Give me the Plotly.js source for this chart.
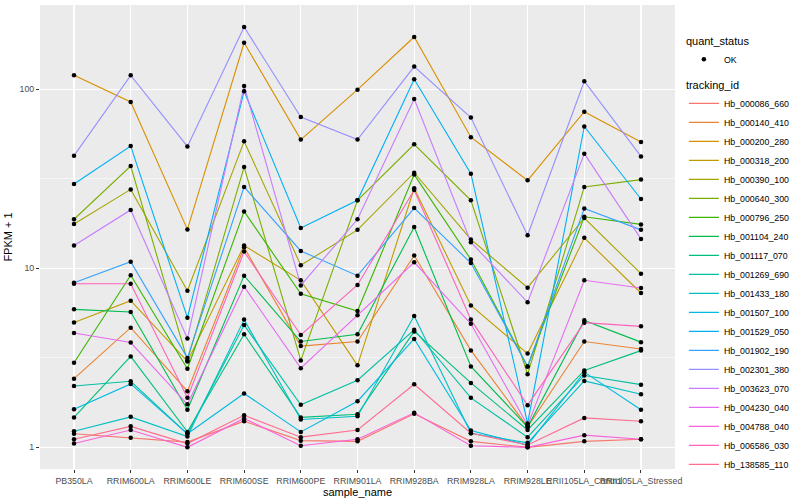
<!DOCTYPE html>
<html>
<head>
<meta charset="utf-8">
<script src="https://cdn.plot.ly/plotly-3.0.1.min.js"></script>
<style>html,body{margin:0;padding:0;background:#fff;}#chart{width:800px;height:500px;}</style>
</head>
<body>
<div id="chart"></div>
<script>
// x categories
var samples = ['PB350LA','RRIM600LA','RRIM600LE','RRIM600SE','RRIM600PE','RRIM901LA','RRIM928BA','RRIM928LA','RRIM928LE','RRII105LA_Control','RRII105LA_Stressed'];

// FPKM + 1 per tracking_id
var hb_000086_660 = [1.19, 1.13, 1.07, 1.40, 1.09, 1.08, 1.54, 1.08, 1.00, 1.08, 1.11];
var hb_000140_410 = [2.42, 4.66, 2.06, 13.1, 3.68, 3.90, 11.8, 3.48, 1.30, 3.90, 3.54];
var hb_000200_280 = [120, 85, 16.5, 182, 52.4, 99.6, 196, 54, 31, 75, 50.8];
var hb_000318_200 = [4.98, 6.6, 3.02, 13.4, 8.57, 2.87, 28.0, 6.2, 3.34, 14.8, 7.28];
var hb_000390_100 = [17.7, 27.6, 7.5, 51.2, 10.4, 16.4, 34.2, 14.5, 7.8, 19.1, 9.33];
var hb_000640_300 = [18.8, 37.3, 3.06, 36.8, 3.06, 24.0, 49.3, 24.0, 2.56, 28.5, 31.3];
var hb_000796_250 = [2.97, 9.14, 2.75, 20.8, 7.2, 5.77, 33.4, 11.2, 2.83, 19.4, 17.6];
var hb_001104_240 = [5.9, 5.7, 1.62, 9.1, 3.9, 4.28, 17.0, 2.83, 1.30, 5.12, 3.87];
var hb_001117_070 = [1.47, 3.22, 1.22, 4.28, 1.47, 1.53, 4.44, 2.29, 1.25, 2.69, 3.47];
var hb_001269_690 = [2.2, 2.34, 1.19, 4.82, 1.73, 2.37, 4.54, 1.89, 1.14, 2.52, 2.24];
var hb_001433_180 = [1.23, 1.48, 1.15, 5.17, 1.43, 1.49, 5.42, 1.20, 1.06, 2.35, 1.98];
var hb_001507_100 = [1.63, 2.26, 1.19, 2.0, 1.22, 1.81, 4.03, 1.24, 1.03, 2.63, 1.62];
var hb_001529_050 = [29.6, 48.2, 5.3, 97.5, 16.8, 24.0, 113.7, 33.8, 1.36, 62, 24.4];
var hb_001902_190 = [8.3, 10.9, 3.16, 28.5, 12.5, 9.1, 21.7, 10.7, 2.83, 21.6, 16.4];
var hb_002301_380 = [42.6, 119.7, 48, 223, 70, 52.4, 134, 69.5, 15.3, 111, 42.2];
var hb_003623_070 = [13.4, 21.2, 4.06, 104.5, 8.03, 18.8, 88.3, 14.0, 6.46, 43.7, 14.6];
var hb_004230_040 = [4.35, 3.85, 1.74, 7.9, 2.77, 5.47, 10.8, 4.9, 1.33, 8.57, 7.77];
var hb_004788_040 = [1.05, 1.25, 1.00, 1.45, 1.02, 1.11, 1.56, 1.02, 1.00, 1.17, 1.11];
var hb_006586_030 = [8.2, 8.2, 1.89, 12.4, 4.24, 8.07, 27.4, 5.17, 1.72, 4.97, 4.74];
var hb_138585_110 = [1.11, 1.31, 1.05, 1.51, 1.14, 1.25, 2.25, 1.20, 1.03, 1.46, 1.40];

var trackingIds = ['Hb_000086_660','Hb_000140_410','Hb_000200_280','Hb_000318_200','Hb_000390_100','Hb_000640_300','Hb_000796_250','Hb_001104_240','Hb_001117_070','Hb_001269_690','Hb_001433_180','Hb_001507_100','Hb_001529_050','Hb_001902_190','Hb_002301_380','Hb_003623_070','Hb_004230_040','Hb_004788_040','Hb_006586_030','Hb_138585_110'];
var seriesValues = [hb_000086_660, hb_000140_410, hb_000200_280, hb_000318_200, hb_000390_100, hb_000640_300, hb_000796_250, hb_001104_240, hb_001117_070, hb_001269_690, hb_001433_180, hb_001507_100, hb_001529_050, hb_001902_190, hb_002301_380, hb_003623_070, hb_004230_040, hb_004788_040, hb_006586_030, hb_138585_110];
var colors = ['#F8766D','#EA8331','#D89000','#C09B00','#A3A500','#7CAE00','#39B600','#00BB4E','#00BF7D','#00C1A3','#00BFC4','#00BAE0','#00B0F6','#35A2FF','#9590FF','#C77CFF','#E76BF3','#FA62DB','#FF62BC','#FF6C91'];
var quantStatus = 'OK';

var FONT = 'Liberation Sans, Arial, sans-serif';
var traces = [];
trackingIds.forEach(function(id, i){
  traces.push({
    type:'scatter', mode:'lines', x:samples, y:seriesValues[i], name:id,
    line:{color:colors[i], width:1.1}, legend:'legend2', hoverinfo:'name+y'
  });
});
var allX = [], allY = [];
seriesValues.forEach(function(v){ v.forEach(function(y, j){ allX.push(samples[j]); allY.push(y); }); });
traces.push({
  type:'scatter', mode:'markers', x:allX, y:allY, name:quantStatus,
  marker:{color:'black', size:4.5, symbol:'circle'}, legend:'legend', hoverinfo:'x+y'
});

var layout = {
  width:800, height:500,
  margin:{l:40, r:116, t:5, b:31, pad:0},
  paper_bgcolor:'white', plot_bgcolor:'#EBEBEB',
  font:{family:FONT, color:'black'},
  xaxis:{
    type:'category', categoryorder:'array', categoryarray:samples,
    range:[-0.6, 10.6], showgrid:true, gridcolor:'white', gridwidth:1.1,
    zeroline:false, showline:false, ticks:'outside', ticklen:3, tickwidth:1, tickcolor:'#333333',
    tickangle:0, tickfont:{family:FONT, size:8.8, color:'#4D4D4D'},
    title:{text:'sample_name', font:{family:FONT, size:11, color:'black'}, standoff:2}
  },
  yaxis:{
    type:'log', range:[-0.121, 2.471], tickvals:[1,10,100], ticktext:['1','10','100'],
    showgrid:true, gridcolor:'white', gridwidth:1.1, zeroline:false, showline:false,
    ticks:'outside', ticklen:3, tickwidth:1, tickcolor:'#333333',
    tickfont:{family:FONT, size:8.8, color:'#4D4D4D'},
    minor:{tickvals:[0.3162, 3.162, 31.62, 316.2], showgrid:true, gridcolor:'white', gridwidth:0.55, ticks:''},
    title:{text:'FPKM + 1', font:{family:FONT, size:11, color:'black'}, standoff:4}
  },
  legend:{
    x:1.014, xanchor:'left', y:0.945, yanchor:'top', bgcolor:'rgba(0,0,0,0)',
    title:{text:'quant_status', font:{family:FONT, size:11, color:'black'}},
    font:{family:FONT, size:8.8, color:'black'}, itemwidth:30
  },
  legend2:{
    x:1.014, xanchor:'left', y:0.85, yanchor:'top', bgcolor:'rgba(0,0,0,0)',
    title:{text:'tracking_id', font:{family:FONT, size:11, color:'black'}},
    font:{family:FONT, size:8.8, color:'black'}, itemwidth:30, tracegroupgap:0
  },
  showlegend:true
};

Plotly.newPlot('chart', traces, layout, {displayModeBar:false, staticPlot:true});
</script>
</body>
</html>
